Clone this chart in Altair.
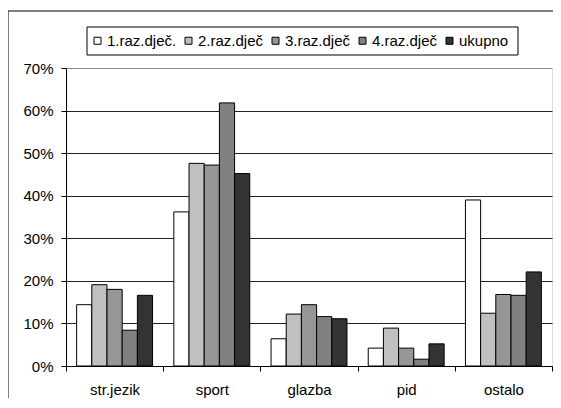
import altair as alt
import pandas as pd

categories = ["str.jezik", "sport", "glazba", "pid", "ostalo"]
series = ["1.raz.dječ.", "2.raz.dječ", "3.raz.dječ", "4.raz.dječ", "ukupno"]
colors = ["#ffffff", "#c0c0c0", "#969696", "#808080", "#333333"]

v_raz1 = [0.144, 0.362, 0.064, 0.042, 0.390]
v_raz2 = [0.191, 0.476, 0.122, 0.089, 0.124]
v_raz3 = [0.180, 0.472, 0.144, 0.042, 0.168]
v_raz4 = [0.084, 0.618, 0.116, 0.016, 0.166]
v_ukupno = [0.166, 0.452, 0.111, 0.052, 0.221]

all_vals = [v_raz1, v_raz2, v_raz3, v_raz4, v_ukupno]
rows = []
for s, vals in zip(series, all_vals):
    for c, v in zip(categories, vals):
        rows.append({"kategorija": c, "serija": s, "udio": v})
df = pd.DataFrame(rows)

FONT = "Liberation Sans"

bars = alt.Chart(df).mark_bar(stroke="black", strokeWidth=1).encode(
    x=alt.X("kategorija:N", sort=categories, title=None,
            scale=alt.Scale(paddingInner=0, paddingOuter=0),
            axis=alt.Axis(labelAngle=0, tickBand="extent", tickSize=5,
                          labelPadding=11, domainColor="black", tickColor="black",
                          labelFontSize=15, labelFont=FONT, labelColor="black")),
    xOffset=alt.XOffset("serija:N", sort=series,
                        scale=alt.Scale(paddingInner=0, paddingOuter=0.70)),
    y=alt.Y("udio:Q", title=None,
            scale=alt.Scale(domain=[0, 0.7], nice=False),
            axis=alt.Axis(format=".0%", values=[0, 0.1, 0.2, 0.3, 0.4, 0.5, 0.6, 0.7],
                          tickSize=5, labelPadding=8, domainColor="black",
                          tickColor="black", grid=True,
                          gridColor={"condition": {"test": "datum.value >= 0.695",
                                                   "value": "#8c8c8c"},
                                     "value": "#222222"},
                          labelFontSize=15, labelFont=FONT, labelColor="black")),
    color=alt.Color("serija:N", sort=series,
                    scale=alt.Scale(domain=series, range=colors),
                    legend=alt.Legend(orient="none", legendX=24, legendY=-35,
                                      direction="horizontal", title=None,
                                      padding=0, symbolType="square", symbolSize=49,
                                      symbolStrokeColor="black", symbolStrokeWidth=1,
                                      labelFontSize=15, labelFont=FONT,
                                      labelColor="black", labelOffset=2,
                                      columnPadding=4)),
)

one_row = pd.DataFrame({"f": [0]})
frame = alt.Chart(one_row).mark_rect(fill=None, stroke="black", strokeWidth=1).encode(
    x=alt.value(-58), x2=alt.value(520), y=alt.value(-57), y2=alt.value(380)
)
legend_box = alt.Chart(one_row).mark_rect(fill=None, stroke="black", strokeWidth=1).encode(
    x=alt.value(21), x2=alt.value(452), y=alt.value(-41), y2=alt.value(-13)
)

chart = alt.layer(bars, frame, legend_box).properties(
    width=486, height=298,
    padding={"left": 58, "top": 60, "right": 1, "bottom": 32},
    autosize=alt.AutoSizeParams(type="none"),
).configure_view(stroke="#8c8c8c", strokeWidth=1).configure(background="white")

chart.save("out.html", embed_options={"renderer": "svg", "actions": False})
